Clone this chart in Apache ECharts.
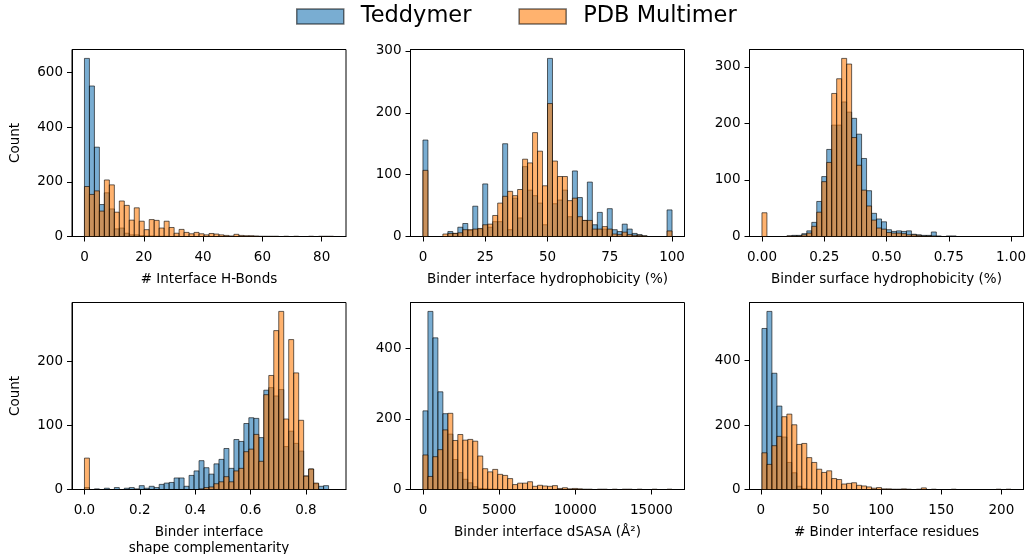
<!DOCTYPE html>
<html>
<head>
<meta charset="utf-8">
<script src="https://cdn.jsdelivr.net/npm/echarts@6/dist/echarts.min.js"></script>
<style>
html,body{margin:0;padding:0;background:#fff;}
#chart{width:1030px;height:554px;}
</style>
</head>
<body>
<div id="chart"></div>
<script>
// ---------- DATA ----------
const seriesNames = ['Teddymer', 'PDB Multimer'];

// panel 1: # Interface H-Bonds
const range1 = [0, 84];
const teddy1 = [652,551,327,117,160,101,28,31,12,6,6,3,2,2,1,1,1,0,1,0,0,0,0,0,0,0,0,0,0,0,0,0,0,0,0,0,0,0,0,0,0,0,0,0,0,0,0,0,0,0];
const pdb1   = [183,154,167,93,207,189,89,130,114,60,105,56,25,62,59,31,56,33,12,26,15,10,15,10,6,11,9,6,4,2,8,4,3,3,2,1,1,1,1,0,1,0,1,0,0,1,0,1,1,1];

// panel 2: Binder interface hydrophobicity (%)
const range2 = [0, 100];
const teddy2 = [156,0,0,0,0,8,5,15,21,10,49,12,85,15,24,24,150,11,62,30,113,75,66,54,19,288,53,59,75,32,106,63,26,88,19,39,12,45,11,8,20,12,5,3,1,0,0,0,0,43];
const pdb2   = [107,0,0,0,4,5,5,6,11,11,12,13,19,20,34,54,65,73,66,76,125,119,168,138,82,215,122,97,97,58,62,32,26,26,12,12,16,12,4,3,7,3,2,2,1,0,0,0,0,9];

// panel 3: Binder surface hydrophobicity (%)
const range3 = [0, 1];
const teddy3 = [0,0,0,0,0,1,2,2,5,10,25,62,106,154,197,197,238,220,209,181,138,81,41,31,26,12,9,10,9,10,4,3,2,2,8,1,0,1,1,0,0,0,0,0,0,0,0,0,0,0];
const pdb3   = [42,0,0,0,0,1,1,1,3,6,18,43,97,131,253,279,315,305,175,126,82,54,29,15,13,7,6,6,5,3,3,2,1,1,1,0,0,0,0,0,0,0,0,0,0,0,0,0,0,0];

// panel 4: Binder interface shape complementarity
const range4 = [0, 0.9];
const teddy4 = [3,0,1,0,2,0,3,0,2,3,1,6,2,5,3,8,10,11,18,18,5,22,29,45,34,24,40,47,64,33,78,75,103,112,111,81,155,159,146,156,67,91,72,60,21,32,9,5,6,0];
const pdb4   = [49,0,0,0,0,0,0,0,0,0,0,0,0,0,0,0,0,0,0,0,0,0,0,1,3,4,9,12,20,12,29,33,59,63,86,44,148,178,248,278,110,234,182,108,21,32,10,0,0,0];

// panel 5: Binder interface dSASA
const range5 = [0, 16350];
const teddy5 = [223,505,430,277,215,157,85,48,29,19,8,3,2,1,1,0,0,0,0,0,0,0,0,0,0,0,0,0,0,0,0,0,0,0,0,0,0,0,0,0,0,0,0,0,0,0,0,0,0,0];
const pdb5   = [98,37,93,113,169,216,139,156,140,142,137,95,59,50,57,43,40,31,14,18,18,22,9,12,10,9,11,3,5,2,3,2,1,1,0,1,1,0,1,0,1,1,0,1,0,0,1,0,0,1];

// panel 6: # Binder interface residues
const range6 = [1, 208];
const teddy6 = [500,553,361,259,163,84,52,10,3,1,1,0,0,0,0,0,0,0,0,0,0,0,0,0,0,0,0,0,0,0,0,0,0,0,0,0,0,0,0,0,0,0,0,0,0,0,0,0,0,0];
const pdb6   = [114,78,136,165,226,234,201,140,143,99,84,63,53,58,34,31,17,19,21,13,11,8,4,6,2,2,1,1,2,1,0,1,5,0,1,0,0,0,1,0,0,0,0,0,0,0,0,1,0,1];

// tick labels
const xTickLabels1 = ['0','20','40','60','80'];
const xTickLabels2 = ['0','25','50','75','100'];
const xTickLabels3 = ['0.00','0.25','0.50','0.75','1.00'];
const xTickLabels4 = ['0.0','0.2','0.4','0.6','0.8'];
const xTickLabels5 = ['0','5000','10000','15000'];
const xTickLabels6 = ['0','50','100','150','200'];
const yTickLabels1 = ['0','200','400','600'];
const yTickLabels2 = ['0','100','200','300'];
const yTickLabels3 = ['0','100','200','300'];
const yTickLabels4 = ['0','100','200'];
const yTickLabels5 = ['0','200','400'];
const yTickLabels6 = ['0','200','400'];

const xTitles = ['# Interface H-Bonds','Binder interface hydrophobicity (%)','Binder surface hydrophobicity (%)','Binder interface\nshape complementarity','Binder interface dSASA (\u00c5\u00b2)','# Binder interface residues'];
const yTitle = 'Count';

// ---------- BUILD ----------
const FONT = 'DejaVu Sans';
const BLUE = 'rgba(31,119,180,0.6)';
const ORANGE = 'rgba(255,127,14,0.6)';
const EDGE = 'rgba(0,0,0,0.6)';

const panels = [
  {r:range1, t:teddy1, p:pdb1, xl:xTickLabels1, yl:yTickLabels1},
  {r:range2, t:teddy2, p:pdb2, xl:xTickLabels2, yl:yTickLabels2},
  {r:range3, t:teddy3, p:pdb3, xl:xTickLabels3, yl:yTickLabels3},
  {r:range4, t:teddy4, p:pdb4, xl:xTickLabels4, yl:yTickLabels4},
  {r:range5, t:teddy5, p:pdb5, xl:xTickLabels5, yl:yTickLabels5},
  {r:range6, t:teddy6, p:pdb6, xl:xTickLabels6, yl:yTickLabels6}
];
const lefts = [72, 410.5, 749.5];
const tops = [49.5, 302.5];
const W = 274, H = 187;

const grids = [], xAxes = [], yAxes = [], series = [];

function makeRender(color) {
  return function (params, api) {
    const a = api.coord([api.value(0), api.value(2)]);
    const b = api.coord([api.value(1), 0]);
    return {
      type: 'rect',
      shape: {x: a[0], y: a[1], width: b[0] - a[0], height: b[1] - a[1]},
      style: {fill: color, stroke: EDGE, lineWidth: 1}
    };
  };
}

const axisLineStyle = {show: true, onZero: false, lineStyle: {color: '#000', width: 1}};

panels.forEach(function (pn, i) {
  const row = Math.floor(i / 3), col = i % 3;
  grids.push({left: lefts[col], top: tops[row], width: W, height: H, show: true,
    borderColor: '#000', borderWidth: 1, backgroundColor: 'transparent',
    containLabel: false, outerBoundsMode: 'none'});
  const span = pn.r[1] - pn.r[0];
  const nb = pn.t.length;
  const edges = [];
  for (let k = 0; k <= nb; k++) edges.push(pn.r[0] + span * k / nb);
  const xv = pn.xl.map(Number);
  const yv = pn.yl.map(Number);
  const ymax = Math.max(Math.max.apply(null, pn.t), Math.max.apply(null, pn.p)) * 1.05;
  xAxes.push({
    type: 'value', gridIndex: i, position: 'bottom', min: pn.r[0] - 0.05 * span, max: pn.r[1] + 0.05 * span,
    axisLine: axisLineStyle, splitLine: {show: false},
    axisTick: {show: true, inside: false, length: 5, lineStyle: {color: '#000', width: 1}, customValues: xv},
    axisLabel: {customValues: xv, margin: 14, color: '#000', fontSize: 13.5, fontFamily: FONT,
      formatter: function (v) { const idx = xv.indexOf(v); return idx >= 0 ? pn.xl[idx] : ''; }},
    name: xTitles[i], nameLocation: 'middle', nameGap: 35,
    nameTextStyle: {color: '#000', fontSize: 13.5, fontFamily: FONT, lineHeight: 16, verticalAlign: 'top'}
  });
  yAxes.push({
    type: 'value', gridIndex: i, position: 'left', min: 0, max: ymax,
    axisLine: axisLineStyle, splitLine: {show: false},
    axisTick: {show: true, inside: false, length: 5, lineStyle: {color: '#000', width: 1}, customValues: yv},
    axisLabel: {customValues: yv, margin: 9, color: '#000', fontSize: 13.5, fontFamily: FONT,
      formatter: function (v) { const idx = yv.indexOf(v); return idx >= 0 ? pn.yl[idx] : ''; }},
    name: col === 0 ? yTitle : '', nameLocation: 'middle', nameGap: 50, nameRotate: 90,
    nameTextStyle: {color: '#000', fontSize: 13.5, fontFamily: FONT}
  });
  [[pn.t, BLUE, seriesNames[0]], [pn.p, ORANGE, seriesNames[1]]].forEach(function (s, j) {
    series.push({
      type: 'custom', name: s[2], xAxisIndex: i, yAxisIndex: i,
      renderItem: makeRender(s[1]),
      itemStyle: {color: s[1], borderColor: EDGE, borderWidth: 1},
      encode: {x: [0, 1], y: 2},
      z: 2 + j,
      silent: true,
      data: s[0].map(function (c, k) { return [edges[k], edges[k + 1], c]; })
    });
  });
});

const chart = echarts.init(document.getElementById('chart'), null, {renderer: 'canvas'});
chart.setOption({
  animation: false,
  backgroundColor: '#fff',
  legend: {
    data: seriesNames, left: 296, top: 5, padding: 0,
    itemWidth: 47, itemHeight: 15, itemGap: 47,
    icon: 'rect',
    itemStyle: {borderColor: 'rgba(0,0,0,0.55)', borderWidth: 1.5},
    textStyle: {color: '#000', fontSize: 22.5, fontFamily: FONT, padding: [0, 0, 0, 12]}
  },
  grid: grids,
  xAxis: xAxes,
  yAxis: yAxes,
  series: series
});
</script>
</body>
</html>
